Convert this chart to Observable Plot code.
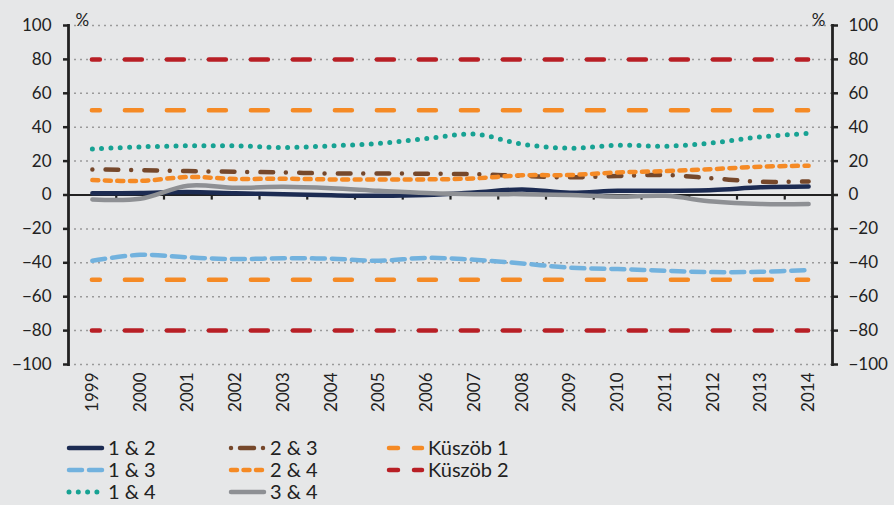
<!DOCTYPE html>
<html><head><meta charset="utf-8">
<script src="https://cdn.jsdelivr.net/npm/d3@7"></script>
<script src="https://cdn.jsdelivr.net/npm/@observablehq/plot@0.6"></script>
<style>
body{margin:0;background:#e6e7e8;font-family:Lato,"Open Sans",sans-serif;}
#wrap{position:relative;width:894px;height:505px;background:#e6e7e8;overflow:hidden}
#chart svg{display:block}
#legend{position:absolute;left:0;top:420px}
</style></head><body>
<div id="wrap"><div id="chart"></div><div id="legend"></div></div>
<script>
const years = [1999,2000,2001,2002,2003,2004,2005,2006,2007,2008,2009,2010,2011,2012,2013,2014];
const s12 = [1, 1.2, 1.8, 1, 0.4, -0.2, -0.5, 0, 1.5, 3.3, 1.3, 2.5, 2.5, 3, 4.5, 5];
const s13 = [-38.8, -35.3, -36.8, -37.8, -37.3, -37.6, -38.8, -37.1, -38.2, -40.4, -42.9, -43.7, -44.7, -45.5, -45.3, -44.3];
const s14 = [27.2, 28.4, 29, 29, 28, 29, 30.4, 33.3, 35.9, 30, 27.6, 29.4, 28.8, 30.8, 34.3, 36.3];
const s23 = [15.1, 14.7, 14.1, 13.7, 13.3, 12.7, 12.7, 12.5, 12.3, 11.2, 10.4, 11.2, 11.8, 9.8, 7.8, 8];
const s24 = [8.8, 8.3, 10.6, 9.5, 9.6, 9.2, 9.2, 9.2, 9.8, 11.6, 11.8, 13.3, 14.1, 15.3, 16.7, 17.3];
const s34 = [-2.6, -2.2, 5.5, 4.3, 4.8, 4, 2.5, 1.2, 0.5, 0.5, 0, -1, -0.5, -3.9, -5.3, -5.3];
const kuszob1 = [50, -50];
const kuszob2 = [80, -80];
const yTicks = [-100,-80,-60,-40,-20,0,20,40,60,80,100];
const seriesNames = ["1 & 2","1 & 3","1 & 4","2 & 3","2 & 4","3 & 4"];
const thresholdNames = ["Küszöb 1","Küszöb 2"];

const styles = {
  "1 & 2": {stroke:"#1c2b52", strokeWidth:4.5, strokeDasharray:null, strokeLinecap:"round"},
  "1 & 3": {stroke:"#72b2de", strokeWidth:4.5, strokeDasharray:"13,7", strokeLinecap:"round"},
  "1 & 4": {stroke:"#17a293", strokeWidth:5, strokeDasharray:"0,9.3", strokeLinecap:"round"},
  "2 & 3": {stroke:"#76482b", strokeWidth:4.5, strokeDasharray:"0,13.3,12.7,12.7", strokeLinecap:"round"},
  "2 & 4": {stroke:"#f58a25", strokeWidth:4.5, strokeDasharray:"6,6.5", strokeLinecap:"round"},
  "3 & 4": {stroke:"#8e9094", strokeWidth:4.5, strokeDasharray:null, strokeLinecap:"round"},
  "Küszöb 1": {stroke:"#f58a25", strokeWidth:4.5, strokeDasharray:"17,25", strokeDashoffset:9, strokeLinecap:"round"},
  "Küszöb 2": {stroke:"#b81f25", strokeWidth:4.5, strokeDasharray:"17,25", strokeDashoffset:9, strokeLinecap:"round"}
};
const seriesValues = [s12, s13, s14, s23, s24, s34];

const fmt = d => d < 0 ? "\u2212" + Math.abs(d) : String(d);
const boundaries = years.slice(1).map(y => y - 0.5);

const lineMarks = seriesNames.map((name, i) => {
  const data = years.map((y, j) => ({year: y, value: seriesValues[i][j]}));
  const st = styles[name];
  return Plot.line(data, {x:"year", y:"value", curve:"catmull-rom", stroke:st.stroke, strokeWidth:st.strokeWidth,
    strokeDasharray:st.strokeDasharray, strokeLinecap:st.strokeLinecap, strokeLinejoin:"round"});
});

const thrMarks = [[kuszob1, "Küszöb 1"], [kuszob2, "Küszöb 2"]].map(([vals, name]) => {
  const st = styles[name];
  return Plot.ruleY(vals, {x1: years[0], x2: years[years.length-1], stroke:st.stroke, strokeWidth:st.strokeWidth,
    strokeDasharray:st.strokeDasharray, strokeDashoffset:st.strokeDashoffset, strokeLinecap:st.strokeLinecap});
});

const chart = Plot.plot({
  width: 894, height: 420,
  marginLeft: 68, marginRight: 62, marginTop: 25, marginBottom: 56,
  style: {background:"#e6e7e8", color:"#222", fontFamily:"Lato, 'Open Sans', sans-serif", fontSize:"17px"},
  x: {domain:[years[0]-0.5, years[years.length-1]+0.5]},
  y: {domain:[-100,100]},
  marks: [
    Plot.ruleY(yTicks.filter(d => d !== 0), {stroke:"#9a9a9a", strokeWidth:1.5, strokeDasharray:"2,4"}),
    Plot.axisY({anchor:"left", ticks:yTicks, tickSize:5, tickPadding:12, tickFormat:fmt, label:null, strokeWidth:2.5, fontSize:17}),
    Plot.axisY({anchor:"right", ticks:yTicks, tickSize:5, tickPadding:11, tickFormat:fmt, label:null, strokeWidth:2.5, fontSize:17}),
    Plot.axisX({anchor:"bottom", ticks:years, tickSize:0, tickPadding:8, tickRotate:-90, tickFormat:d => String(d), label:null, fontSize:17}),
    Plot.frame({anchor:"left", stroke:"#222", strokeWidth:2.8}),
    Plot.frame({anchor:"right", stroke:"#222", strokeWidth:2.8}),
    Plot.ruleY([0], {stroke:"#222", strokeWidth:2.2}),
    Plot.ruleX(boundaries, {y1:0, y2:-3, stroke:"#222", strokeWidth:2.2}),
    ...lineMarks,
    ...thrMarks,
    Plot.text(["%"], {frameAnchor:"top-left", dx:7, dy:-12, fontSize:17, fill:"#222"}),
    Plot.text(["%"], {frameAnchor:"top-right", dx:-7, dy:-12, fontSize:17, fill:"#222"})
  ]
});
document.getElementById("chart").appendChild(chart);

// Legend
const legendItems = [
  {name:"1 & 2", col:0, row:0}, {name:"1 & 3", col:0, row:1}, {name:"1 & 4", col:0, row:2},
  {name:"2 & 3", col:1, row:0}, {name:"2 & 4", col:1, row:1}, {name:"3 & 4", col:1, row:2},
  {name:"Küszöb 1", col:2, row:0}, {name:"Küszöb 2", col:2, row:1}
];
const colX = [67, 229, 387];
const rowY = [28, 50, 72];
const lsvg = d3.select("#legend").append("svg").attr("width", 894).attr("height", 85);
legendItems.forEach(it => {
  const st = styles[it.name];
  const x0 = colX[it.col], y0 = rowY[it.row];
  let dash = st.strokeDasharray, off = 0;
  if (it.name.startsWith("Küszöb")) { dash = "9,16"; off = 0; }
  if (it.name === "2 & 3") { dash = "0,9,14,9"; }
  const x1 = x0 + 2, x2 = x0 + 35;
  lsvg.append("line").attr("x1", x1).attr("x2", x2).attr("y1", y0).attr("y2", y0)
    .attr("stroke", st.stroke).attr("stroke-width", st.strokeWidth)
    .attr("stroke-linecap", st.strokeLinecap)
    .attr("stroke-dasharray", dash).attr("stroke-dashoffset", off);
  lsvg.append("text").attr("x", x0 + 41).attr("y", y0).attr("dy", "0.35em")
    .attr("font-family", "Lato, 'Open Sans', sans-serif").attr("font-size", 20).attr("fill", "#222")
    .text(it.name);
});
</script>
</body></html>
